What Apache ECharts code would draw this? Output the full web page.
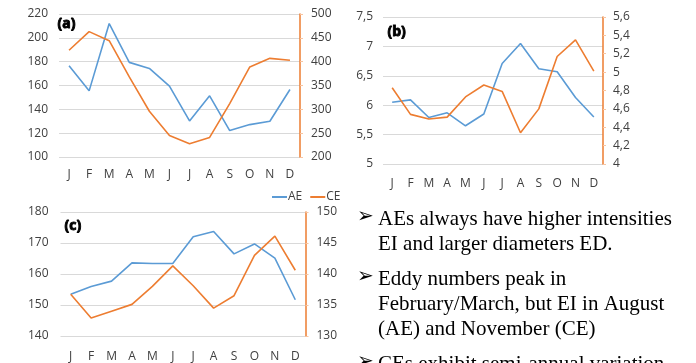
<!DOCTYPE html>
<html><head><meta charset="utf-8">
<script src="https://cdn.jsdelivr.net/npm/echarts@6/dist/echarts.min.js"></script>
<style>html,body{margin:0;padding:0;background:#fff}#c{width:696px;height:363px}</style>
</head><body><div id="c"></div>
<script>
var months = ['J','F','M','A','M','J','J','A','S','O','N','D'];
var aAE = [176.5,155.5,212,179.4,174.3,159.4,130.3,151.3,122.2,127.2,130,156.6];
var aCE = [424,463,444,368,296,245,228,241,312,389,407,403];
var bAE = [6.05,6.09,5.79,5.87,5.65,5.85,6.71,7.05,6.62,6.57,6.13,5.80];
var bCE = [4.83,4.54,4.49,4.51,4.73,4.86,4.79,4.34,4.60,5.17,5.35,5.01];
var cAE = [153.5,156,157.7,163.6,163.4,163.4,172,173.7,166.5,169.7,165.1,151.7];
var cCE = [136.75,132.9,134,135.1,138,141.3,138.1,134.5,136.5,143,146.1,140.6];
var bullets = [
  ['AEs always have higher intensities', 'EI and larger diameters ED.'],
  ['Eddy numbers peak in', 'February/March, but EI in August', '(AE) and November (CE)'],
  ['CEs exhibit semi-annual variation']
];
var BLUE = '#5B9BD5', ORANGE = '#ED7D31', FONT = 'Open Sans, Liberation Sans, sans-serif', TXT = '#404040';
var chart = echarts.init(document.getElementById('c'));
function xAx(i, margin) {
  return {type:'category', gridIndex:i, data:months, boundaryGap:true,
    axisLine:{show:false}, axisTick:{show:false},
    axisLabel:{color:TXT, fontSize:12, fontFamily:FONT, margin:margin, interval:0}};
}
function yL(i, min, max, iv, margin, fmt) {
  return {type:'value', gridIndex:i, min:min, max:max, interval:iv, position:'left',
    axisLine:{show:false}, axisTick:{show:false},
    splitLine:{show:true, lineStyle:{color:'#d9d9d9', width:1}},
    axisLabel:{color:TXT, fontSize:12, fontFamily:FONT, margin:margin, formatter:fmt}};
}
function yR(i, min, max, iv, margin, fmt) {
  return {type:'value', gridIndex:i, min:min, max:max, interval:iv, position:'right',
    axisLine:{show:true, lineStyle:{color:ORANGE, width:1.5}},
    axisTick:{show:true, length:3, lineStyle:{color:'#f8c4a0'}},
    splitLine:{show:false},
    axisLabel:{color:TXT, fontSize:12, fontFamily:FONT, margin:margin, formatter:fmt}};
}
var comma = function(v){ return String(v).replace('.', ','); };
function line(name, x, y, data, color) {
  return {name:name, type:'line', xAxisIndex:x, yAxisIndex:y, data:data, showSymbol:false,
    symbol:'none', lineStyle:{color:color, width:1.6}, itemStyle:{color:color}, animation:false};
}
var g = [];
var base = 226.7;
bullets.forEach(function(group, gi){
  group.forEach(function(t, li){
    if (li === 0) g.push({type:'text', left:357, top:base-20, style:{text:'\u27A2', fontSize:20, fill:'#000', fontFamily:'DejaVu Sans'}});
    g.push({type:'text', left:378, top:base-17.6, style:{text:t, fontSize:21, fill:'#000', fontFamily:'Liberation Serif, serif'}});
    base += 25;
  });
  base += 10;
});
function tag(t, l, tp) {
  return {type:'text', left:l, top:tp, style:{text:t, fontSize:14, fontWeight:'bold', fill:'#000',
    stroke:'#000', lineWidth:0.9, fontFamily:FONT}};
}
g.push(tag('(a)', 57, 17));
g.push(tag('(b)', 387, 25));
g.push(tag('(c)', 64, 219));
chart.setOption({
  animation:false,
  textStyle:{fontFamily:FONT},
  grid:[
    {left:59, top:14, width:241, height:143},
    {left:383, top:17, width:220, height:147},
    {left:60.5, top:212, width:245, height:127}
  ],
  legend:{left:267, top:186, itemWidth:15, itemHeight:2, itemGap:8, icon:'rect',
    textStyle:{color:TXT, fontSize:12, fontFamily:FONT, padding:[0,0,0,-4]},
    data:[{name:'AE', itemStyle:{color:BLUE}}, {name:'CE', itemStyle:{color:ORANGE}}]},
  xAxis:[xAx(0,12), xAx(1,14), xAx(2,15)],
  yAxis:[yL(0,100,220,20,11), yR(0,200,500,50,11),
         yL(1,5,7.5,0.5,10,comma), yR(1,4,5.6,0.2,10,comma),
         yL(2,140,180,10,12), yR(2,130,150,5,11)],
  series:[
    line('AE',0,0,aAE,BLUE), line('CE',0,1,aCE,ORANGE),
    line('AE',1,2,bAE,BLUE), line('CE',1,3,bCE,ORANGE),
    line('AE',2,4,cAE,BLUE), line('CE',2,5,cCE,ORANGE)
  ],
  graphic:g
});
</script></body></html>
